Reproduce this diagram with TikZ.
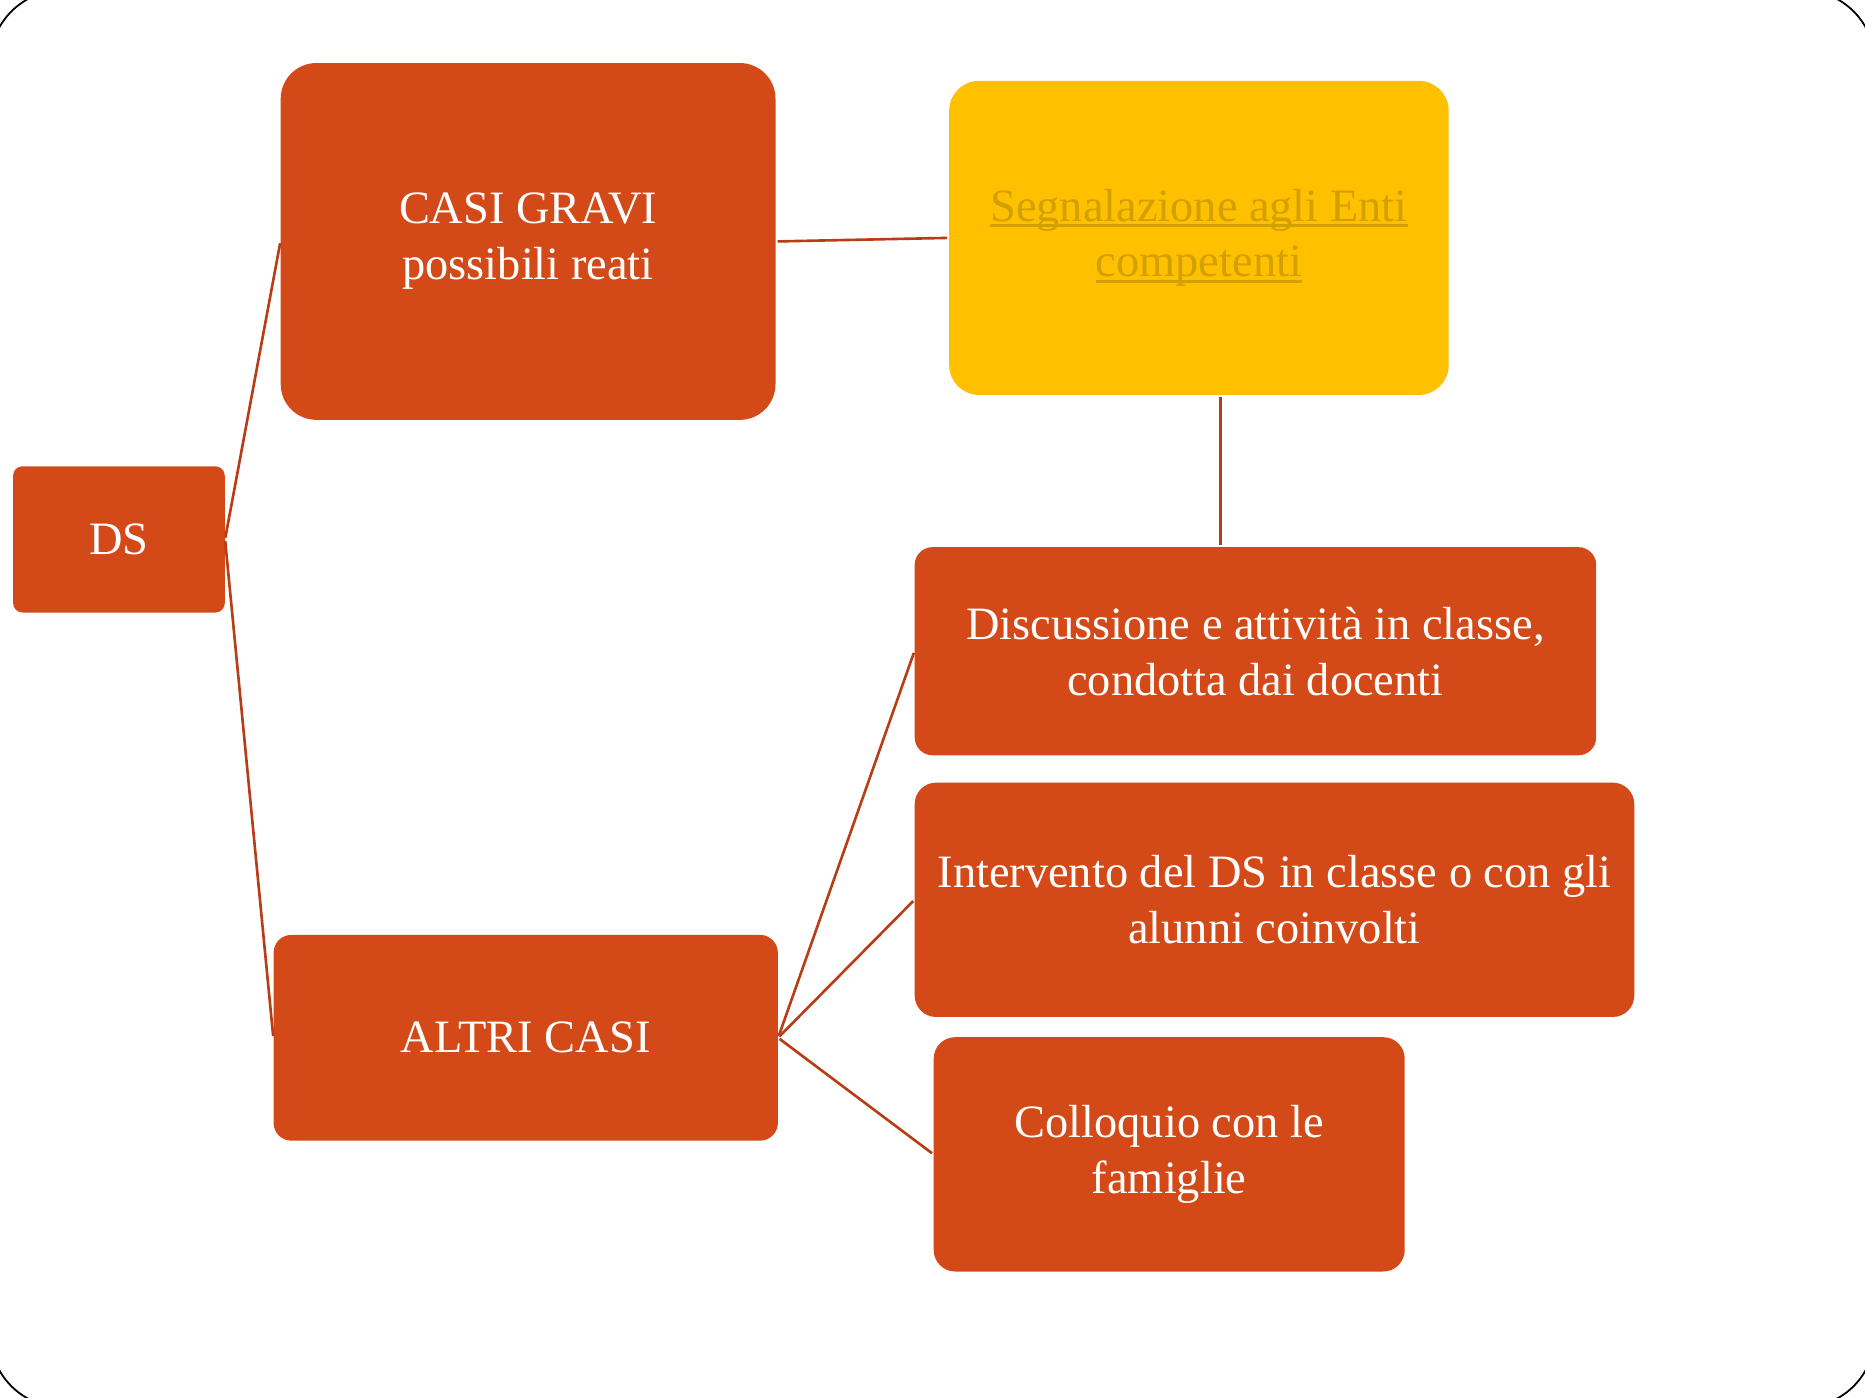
\documentclass[tikz,border=0pt]{standalone}
\usepackage{fontspec}
\setmainfont{Liberation Serif}
\definecolor{boxorange}{HTML}{D34A18}
\definecolor{lineorange}{HTML}{B83C16}
\definecolor{boxyellow}{HTML}{FFC000}
\definecolor{textgold}{HTML}{D2A000}
\newcommand\linktext[1]{\setbox0\hbox{#1}\rlap{\rule[-5pt]{\wd0}{2.5pt}}\box0}
\begin{document}
\begin{tikzpicture}[x=1pt,y=-1pt,
    orangebox/.style={fill=boxorange,text=white,align=center,inner sep=0pt,
      font=\fontsize{39}{47}\selectfont},
    yellowbox/.style={orangebox,fill=boxyellow,text=textgold},
    link/.style={draw=lineorange,line width=2.2pt}]
      \useasboundingbox (0,0) rectangle (1568,1175);
      \draw[line width=1.5pt,rounded corners=60pt] (-8,-8) rectangle (1576,1183);
      \path
        (100,453.5) node[orangebox,minimum width=178pt,minimum height=123pt,rounded corners=8pt] (ds){DS}
        (444,203) node[orangebox,minimum width=416pt,minimum height=300pt,rounded corners=30pt] (gravi){CASI GRAVI\\possibili reati}
        (1008,200) node[yellowbox,minimum width=420pt,minimum height=264pt,rounded corners=25pt] (enti){\linktext{Segnalazione agli Enti}\\\linktext{competenti}}
        (1055.5,547.5) node[orangebox,minimum width=573pt,minimum height=175pt,rounded corners=15pt] (discussione){Discussione e attività in classe,\\condotta dai docenti}
        (1071.5,756.5) node[orangebox,minimum width=605pt,minimum height=197pt,rounded corners=18pt] (intervento){Intervento del DS in classe o con gli\\alunni coinvolti}
        (442,872.5) node[orangebox,minimum width=424pt,minimum height=173pt,rounded corners=15pt] (altri){ALTRI CASI}
        (983,970.5) node[orangebox,minimum width=396pt,minimum height=197pt,rounded corners=18pt] (colloquio){Colloquio con le\\famiglie};
      \coordinate (entibase) at ([xshift=18pt]enti.south);
      \begin{scope}[link,shorten <=1.5pt,shorten >=1.5pt]
        \draw (ds.east) to (gravi.west);
        \draw (ds.east) to (altri.west);
        \draw (gravi.east) to (enti.west);
        \draw (entibase) to (entibase |- discussione.north);
        \draw (altri.east) to (discussione.west);
        \draw (altri.east) to (intervento.west);
        \draw (altri.east) to (colloquio.west);
      \end{scope}
    \end{tikzpicture}
\end{document}
